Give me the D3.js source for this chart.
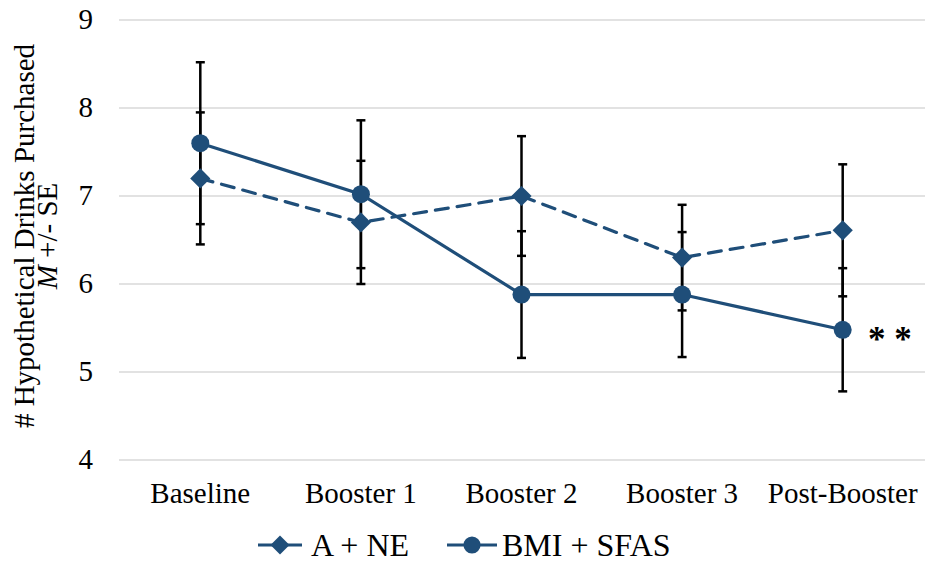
<!DOCTYPE html>
<html>
<head>
<meta charset="utf-8">
<script src="https://cdn.jsdelivr.net/npm/d3@7"></script>
<style>
  body { margin: 0; background: #fff; }
  svg { display: block; }
  svg text { font-family: "Liberation Serif", "Times New Roman", "DejaVu Serif", serif; }
</style>
</head>
<body>
<svg width="925" height="562"></svg>
<script>
const categories = ["Baseline", "Booster 1", "Booster 2", "Booster 3", "Post-Booster"];
const aneMeans = [7.2, 6.7, 7.0, 6.3, 6.61];
const aneSE = [0.75, 0.70, 0.68, 0.60, 0.75];
const bmiMeans = [7.6, 7.02, 5.88, 5.88, 5.48];
const bmiSE = [0.92, 0.84, 0.72, 0.71, 0.70];
const yTicks = [4, 5, 6, 7, 8, 9];

const svg = d3.select("svg");
const blue = "#1f4e79";
const serif = "'Liberation Serif', 'Times New Roman', serif";

const x = d3.scaleBand().domain(categories).range([120, 923]);
const cx = (c) => x(c) + x.bandwidth() / 2;
const y = d3.scaleLinear().domain([4, 9]).range([460, 20]);

// gridlines
svg.append("g")
  .selectAll("line")
  .data(yTicks)
  .join("line")
  .attr("x1", 119)
  .attr("x2", 925)
  .attr("y1", (d) => y(d))
  .attr("y2", (d) => y(d))
  .attr("stroke", "#d9d9d9")
  .attr("stroke-width", 1.5);

// y tick labels
svg.append("g")
  .selectAll("text")
  .data(yTicks)
  .join("text")
  .attr("x", 93)
  .attr("y", (d) => y(d) + 9)
  .attr("text-anchor", "end")
  .attr("font-family", serif)
  .attr("font-size", "29px")
  .attr("fill", "#000")
  .text((d) => d);

// category labels
svg.append("g")
  .selectAll("text")
  .data(categories)
  .join("text")
  .attr("x", (d) => cx(d))
  .attr("y", 503)
  .attr("text-anchor", "middle")
  .attr("font-family", serif)
  .attr("font-size", "29px")
  .attr("fill", "#000")
  .text((d) => d);

// y axis title
const title = svg.append("text")
  .attr("transform", "translate(34,236) rotate(-90)")
  .attr("text-anchor", "middle")
  .attr("font-family", serif)
  .attr("font-size", "29px")
  .attr("fill", "#000");
title.append("tspan").attr("x", 0).attr("dy", 0).text("# Hypothetical Drinks Purchased");
const t2 = title.append("tspan").attr("x", 0).attr("dy", 23);
t2.append("tspan").attr("font-style", "italic").text("M");
t2.append("tspan").text(" +/- SE");

const series = [
  { name: "A + NE", means: aneMeans, se: aneSE, dash: "13,9", marker: "diamond" },
  { name: "BMI + SFAS", means: bmiMeans, se: bmiSE, dash: null, marker: "circle" }
];

const line = d3.line().x((d, i) => cx(categories[i])).y((d) => y(d));

series.forEach((s) => {
  // error bars
  const eb = svg.append("g").attr("stroke", "#000").attr("stroke-width", 2.5);
  s.means.forEach((m, i) => {
    const px = cx(categories[i]);
    eb.append("line").attr("x1", px).attr("x2", px)
      .attr("y1", y(m + s.se[i])).attr("y2", y(m - s.se[i]));
    eb.append("line").attr("x1", px - 4.5).attr("x2", px + 4.5)
      .attr("y1", y(m + s.se[i])).attr("y2", y(m + s.se[i]));
    eb.append("line").attr("x1", px - 4.5).attr("x2", px + 4.5)
      .attr("y1", y(m - s.se[i])).attr("y2", y(m - s.se[i]));
  });
});

series.forEach((s) => {
  svg.append("path")
    .datum(s.means)
    .attr("d", line)
    .attr("fill", "none")
    .attr("stroke", blue)
    .attr("stroke-width", 3.2)
    .attr("stroke-dasharray", s.dash)
    .attr("stroke-linecap", s.dash ? "round" : "butt");

  const sym = s.marker === "diamond"
    ? d3.symbol().type(d3.symbolDiamond2).size(260)
    : d3.symbol().type(d3.symbolCircle).size(255);
  svg.append("g")
    .selectAll("path")
    .data(s.means)
    .join("path")
    .attr("transform", (d, i) => `translate(${cx(categories[i])},${y(d)})`)
    .attr("d", sym)
    .attr("fill", blue);
});

// significance marker
svg.append("text")
  .attr("x", 868)
  .attr("y", 351)
  .attr("font-family", serif)
  .attr("font-size", "35px")
  .attr("font-weight", "bold")
  .attr("fill", "#000")
  .text("* *");

// legend
const legendItems = [
  { name: "A + NE", x1: 258, x2: 302, tx: 311, marker: "diamond" },
  { name: "BMI + SFAS", x1: 447, x2: 497, tx: 502, marker: "circle" }
];
const legend = svg.append("g");
legendItems.forEach((d) => {
  legend.append("line")
    .attr("x1", d.x1).attr("x2", d.x2)
    .attr("y1", 545).attr("y2", 545)
    .attr("stroke", blue).attr("stroke-width", 3.2);
  const sym = d.marker === "diamond"
    ? d3.symbol().type(d3.symbolDiamond2).size(230)
    : d3.symbol().type(d3.symbolCircle).size(230);
  legend.append("path")
    .attr("transform", `translate(${(d.x1 + d.x2) / 2},545)`)
    .attr("d", sym)
    .attr("fill", blue);
  legend.append("text")
    .attr("x", d.tx)
    .attr("y", 556)
    .attr("font-family", serif)
    .attr("font-size", "32px")
    .attr("fill", "#000")
    .text(d.name);
});
</script>
</body>
</html>
